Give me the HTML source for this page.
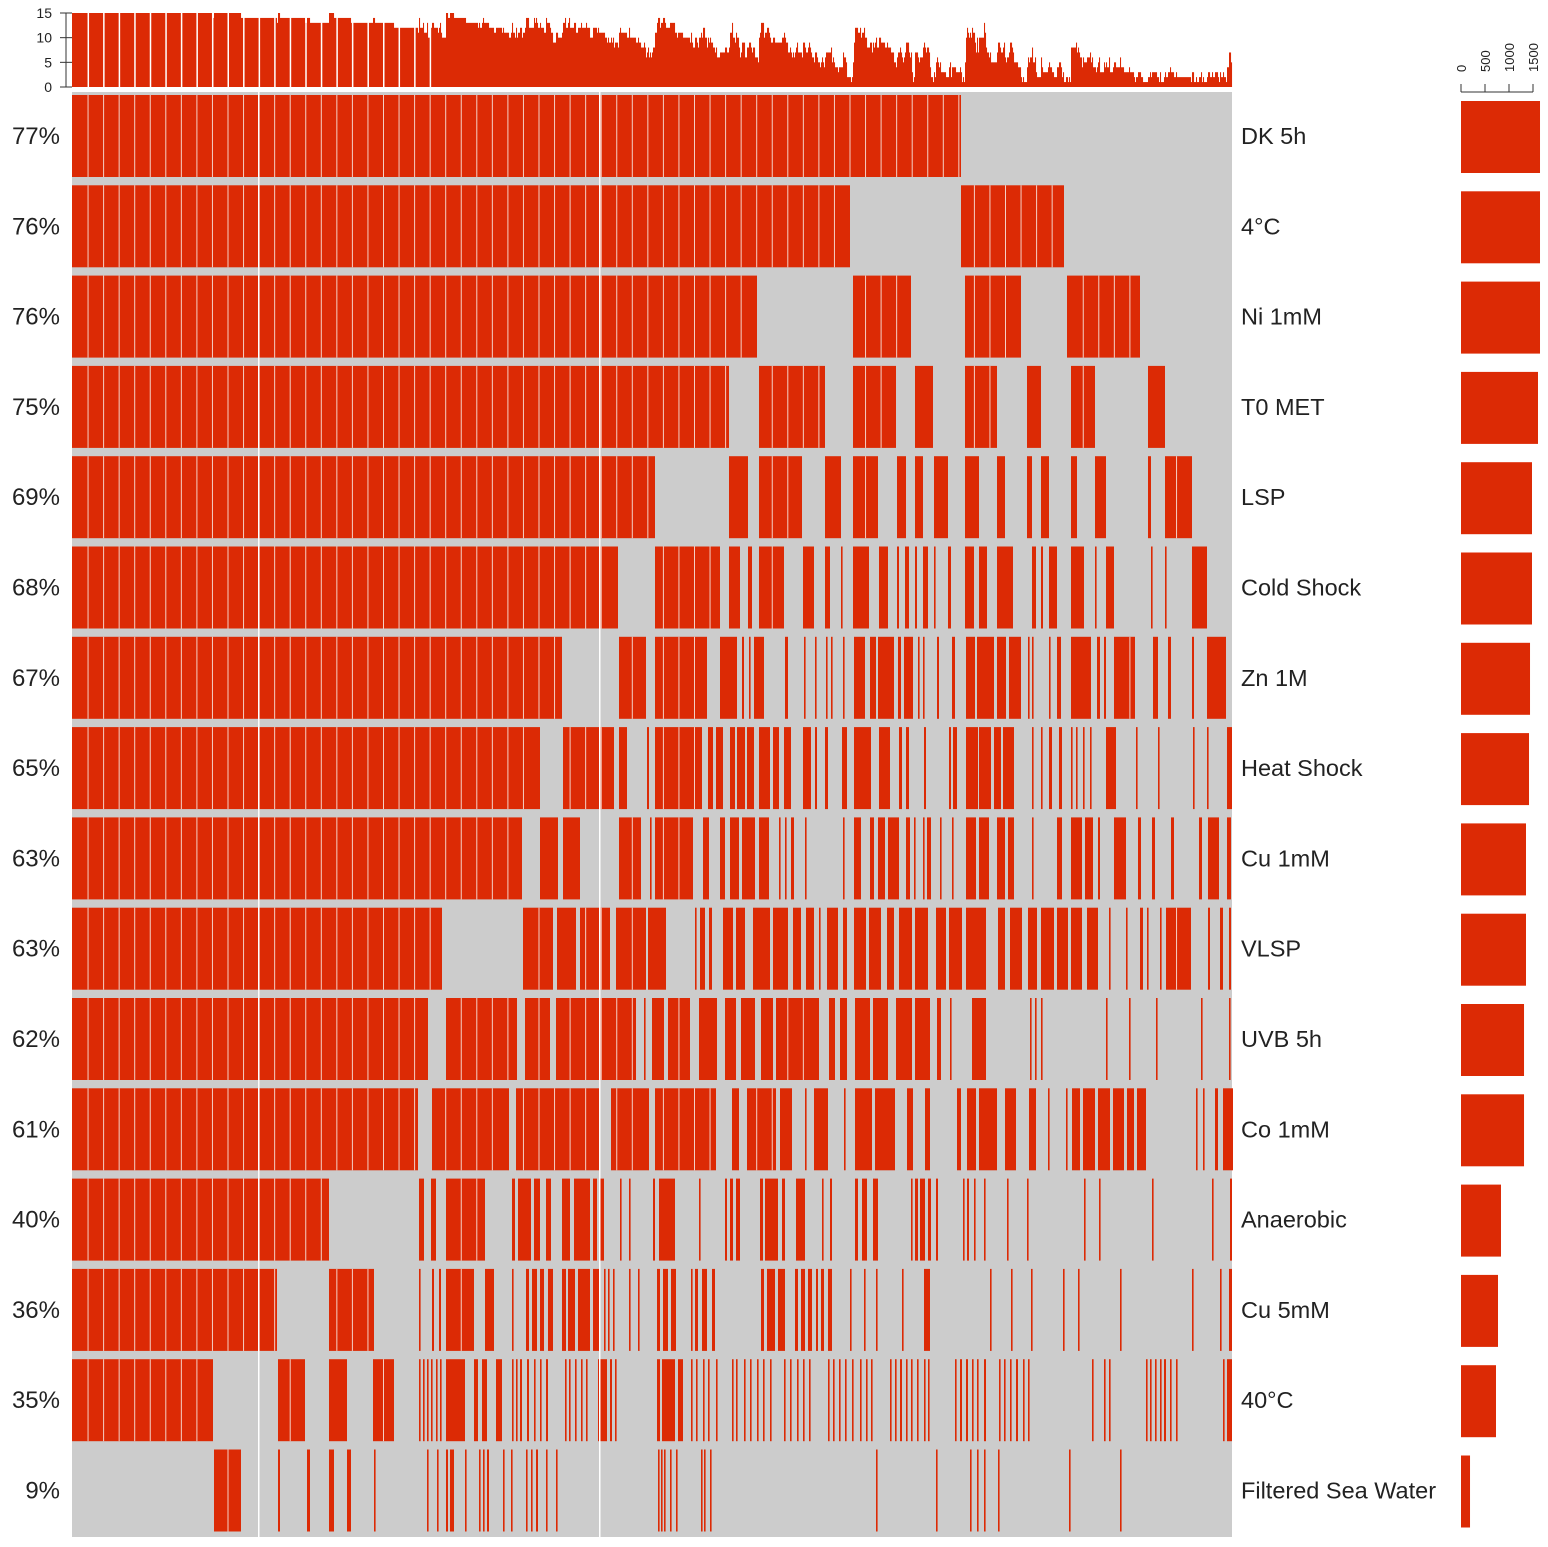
<!DOCTYPE html>
<html><head><meta charset="utf-8"><style>
html,body{margin:0;padding:0;background:#fff}
svg{display:block}
text{font-family:"Liberation Sans",sans-serif;fill:#222}
</style></head><body>
<svg id="chart" width="1548" height="1547" viewBox="0 0 1548 1547" xmlns="http://www.w3.org/2000/svg"></svg>
<script>
const rowNames = ["DK 5h","4\u00B0C","Ni 1mM","T0 MET","LSP","Cold Shock","Zn 1M","Heat Shock","Cu 1mM","VLSP","UVB 5h","Co  1mM","Anaerobic","Cu 5mM","40\u00B0C","Filtered Sea Water"];
const rowPercents = ["77%","76%","76%","75%","69%","68%","67%","65%","63%","63%","62%","61%","40%","36%","35%","9%"];
const setSizes = [1646,1646,1646,1604,1479,1479,1438,1417,1354,1354,1313,1313,833,771,729,188];
const sizeTicks = [0,500,1000,1500];
const histTicks = [0,5,10,15];
// gene rank ranges (domain 72..1232) present in each condition
const r0 = [[72,961]];
const r1 = [[72,850],[961,1064]];
const r2 = [[72,757],[853,911],[965,1021],[1067,1140]];
const r3 = [[72,729],[759,825],[853,896],[915,933],[965,997],[1027,1041],[1071,1095],[1148,1165]];
const r4 = [[72,655],[729,748],[759,802],[825,841],[853,878],[897,906],[915,923],[934,948],[965,979],[997,1005],[1027,1032],[1041,1049],[1071,1077],[1095,1106],[1148,1151],[1165,1192]];
const r5 = [[72,618],[655,720],[729,740],[748,752],[759,784],[803,814],[825,830],[841,842],[853,869],[879,888],[897,899],[905,909],[915,917],[923,928],[934,935],[948,951],[965,974],[979,987],[997,1013],[1032,1036],[1041,1043],[1049,1057],[1071,1084],[1095,1096],[1106,1114],[1151,1152],[1165,1166],[1192,1207]];
const r6 = [[72,562],[619,646],[655,707],[720,737],[742,744],[749,750],[754,764],[785,788],[804,805],[815,816],[826,827],[831,832],[843,844],[854,865],[870,876],[878,894],[898,901],[904,913],[918,919],[923,924],[937,939],[952,955],[966,975],[977,994],[997,1006],[1009,1021],[1028,1029],[1032,1033],[1049,1050],[1057,1061],[1071,1091],[1097,1100],[1104,1106],[1114,1135],[1153,1158],[1168,1171],[1192,1194],[1207,1226]];
const r7 = [[72,540],[563,614],[619,627],[647,649],[655,702],[708,713],[716,723],[730,735],[737,745],[747,754],[759,770],[773,779],[784,791],[803,811],[815,817],[825,828],[842,847],[854,871],[879,890],[899,902],[906,909],[924,926],[949,951],[953,957],[966,978],[979,991],[994,1001],[1003,1014],[1032,1033],[1041,1042],[1049,1052],[1059,1062],[1071,1072],[1076,1077],[1083,1084],[1090,1091],[1106,1116],[1136,1137],[1158,1159],[1193,1194],[1207,1208],[1227,1232]];
const r8 = [[72,522],[540,558],[563,580],[619,641],[650,651],[655,693],[703,709],[720,725],[730,739],[742,755],[759,769],[779,780],[785,786],[791,794],[805,806],[843,844],[854,861],[870,874],[878,885],[888,899],[906,910],[914,915],[923,924],[927,931],[940,941],[952,953],[966,976],[979,989],[997,1005],[1008,1014],[1032,1033],[1057,1062],[1071,1082],[1085,1093],[1098,1100],[1114,1126],[1138,1141],[1152,1155],[1171,1174],[1199,1202],[1208,1219],[1227,1231]];
const r9 = [[72,442],[523,553],[557,576],[580,610],[616,646],[648,666],[695,696],[700,705],[709,712],[723,733],[736,745],[753,770],[773,788],[793,801],[806,814],[819,820],[827,838],[843,847],[854,866],[869,881],[887,894],[899,912],[915,928],[936,946],[949,962],[966,986],[998,1005],[1010,1022],[1028,1037],[1041,1054],[1057,1068],[1071,1082],[1087,1098],[1109,1110],[1126,1127],[1140,1143],[1147,1148],[1160,1161],[1166,1191],[1208,1210],[1220,1223],[1229,1231]];
const r10 = [[72,428],[446,517],[525,550],[556,636],[644,645],[652,664],[668,690],[699,717],[725,736],[741,755],[761,773],[776,819],[829,835],[840,847],[855,870],[873,888],[896,912],[915,930],[937,941],[950,951],[972,986],[1030,1031],[1035,1036],[1041,1042],[1106,1107],[1129,1130],[1156,1157],[1201,1202],[1229,1230]];
const r11 = [[72,418],[432,509],[516,599],[611,649],[655,716],[732,739],[747,776],[780,792],[805,806],[814,828],[844,845],[855,872],[875,895],[907,913],[925,930],[957,961],[967,976],[979,997],[1005,1016],[1029,1036],[1048,1049],[1066,1067],[1072,1080],[1083,1095],[1098,1110],[1113,1124],[1127,1134],[1137,1146],[1196,1197],[1203,1204],[1215,1218],[1223,1233]];
const r12 = [[72,329],[419,424],[431,436],[446,485],[512,515],[518,531],[534,540],[546,551],[562,570],[574,590],[593,597],[600,604],[620,621],[629,630],[653,655],[659,675],[699,700],[725,727],[730,733],[736,740],[760,763],[765,778],[782,785],[796,805],[822,823],[830,832],[855,858],[862,867],[873,878],[911,912],[915,918],[920,925],[928,931],[936,938],[963,964],[967,969],[974,975],[984,985],[1007,1008],[1027,1028],[1084,1085],[1099,1100],[1152,1153],[1212,1213],[1230,1232]];
const r13 = [[72,277],[329,374],[419,420],[432,434],[439,441],[446,474],[485,494],[512,513],[526,529],[532,537],[540,544],[548,553],[562,566],[568,575],[578,590],[593,600],[604,605],[608,609],[613,614],[629,630],[638,639],[657,660],[663,668],[671,676],[691,692],[695,698],[702,707],[712,715],[761,764],[767,775],[778,785],[795,798],[801,805],[808,812],[816,818],[821,824],[828,832],[850,851],[864,865],[876,877],[902,903],[924,930],[990,991],[1011,1012],[1031,1032],[1063,1064],[1078,1079],[1120,1121],[1192,1193],[1220,1221],[1229,1232]];
const r14 = [[72,213],[278,305],[329,347],[373,394],[419,420],[423,424],[427,428],[431,432],[436,437],[440,441],[446,465],[474,478],[482,487],[496,502],[512,513],[516,517],[520,522],[527,529],[534,535],[540,541],[546,548],[565,566],[569,570],[575,576],[581,582],[586,587],[598,607],[610,612],[615,616],[657,660],[662,675],[678,683],[691,692],[696,697],[703,704],[708,709],[716,717],[732,733],[736,737],[744,745],[750,751],[757,758],[763,764],[770,771],[784,785],[790,791],[797,798],[803,804],[809,810],[828,829],[833,834],[839,840],[845,846],[852,853],[860,861],[866,867],[871,872],[890,891],[895,896],[900,902],[906,907],[911,912],[917,918],[924,925],[928,929],[955,956],[960,962],[966,968],[972,973],[977,978],[984,986],[999,1000],[1004,1005],[1010,1011],[1016,1018],[1023,1024],[1028,1029],[1092,1093],[1104,1105],[1109,1110],[1146,1147],[1150,1151],[1155,1156],[1160,1161],[1164,1166],[1170,1171],[1176,1177],[1223,1224],[1227,1232]];
const r15 = [[214,241],[278,280],[307,310],[329,334],[347,351],[374,375],[427,428],[437,438],[446,448],[450,454],[465,466],[479,480],[483,484],[487,489],[503,504],[511,512],[526,527],[531,532],[536,538],[546,547],[556,557],[658,659],[661,662],[664,665],[670,671],[676,677],[701,702],[704,705],[710,711],[876,877],[936,937],[970,971],[977,978],[984,985],[998,999],[1069,1070],[1120,1121]];
const rowRanges = [r0,r1,r2,r3,r4,r5,r6,r7,r8,r9,r10,r11,r12,r13,r14,r15];

const RED = "#dc2a05", GRAY = "#cccccc";
const GMIN = 72, GMAX = 1232;
const MX0 = 72, MX1 = 1232;
const xScale = g => MX0 + (g - GMIN) * (MX1 - MX0) / (GMAX - GMIN);
const ROW_TOP = 95, ROW_PITCH = 90.3, ROW_H = 82;
const rowY = i => ROW_TOP + i * ROW_PITCH;
const HY0 = 87, HY15 = 13;
const hScale = v => HY0 - v * (HY0 - HY15) / 15;
const SX0 = 1461;
const sScale = v => SX0 + v * 48 / 1000;

const svg = document.getElementById('chart');
const NS = "http://www.w3.org/2000/svg";
function mk(tag, attrs, parent) {
  const e = document.createElementNS(NS, tag);
  for (const k in attrs) e.setAttribute(k, attrs[k]);
  (parent || svg).appendChild(e);
  return e;
}

const bg = mk('rect', {x: MX0, y: 92, width: MX1 - MX0, height: 1445, fill: GRAY});



rowRanges.forEach((ranges, i) => {
  const g = mk('g', {});
  
  
  ranges.forEach(([a, b]) => {
    const x0 = xScale(a), x1 = xScale(b);
    const r = mk('rect', {x: x0, y: rowY(i), width: Math.max(x1 - x0, 1.6), height: ROW_H, fill: RED}, g);
    
    
    if (x1 - x0 > 20) {
      for (let s = MX0 + 15.55; s < x1; s += 15.55) {
        if (s > x0 + 2 && s < x1 - 2) mk('rect', {x: s, y: rowY(i), width: 1, height: ROW_H, fill: '#f4cfc5'}, g);
      }
    }
  });
  const pl = mk('text', {x: 60, y: rowY(i) + ROW_H / 2 + 8, 'text-anchor': 'end', 'font-size': 24});
  pl.textContent = rowPercents[i];
  
  
  const nl = mk('text', {x: 1241, y: rowY(i) + ROW_H / 2 + 8, 'font-size': 23.5});
  nl.textContent = rowNames[i];
  
  
  const sb = mk('rect', {x: SX0, y: rowY(i) + 6, width: sScale(setSizes[i]) - SX0, height: 72, fill: RED});
  
  
});

[258, 599].forEach(x => {
  const l = mk('rect', {x: x, y: 92, width: 1.5, height: 1445, fill: '#ffffff'});
  
  
});

const hist = mk('g', {});


for (let gpos = GMIN; gpos < GMAX; gpos++) {
  let c = 0;
  rowRanges.forEach(rr => { if (rr.some(([a, b]) => gpos >= a && gpos < Math.max(b, a + 1))) c++; });
  if (c > 0) {
    const x0 = xScale(gpos);
    mk('rect', {x: x0, y: hScale(c), width: 1.05, height: HY0 - hScale(c), fill: RED}, hist);
  }
}
for (let s = MX0 + 15.55; s < 430; s += 15.55) mk('rect', {x: s, y: 12, width: 1.5, height: 76, fill: '#fff'}, hist);
const hax = mk('line', {x1: 66, y1: hScale(0), x2: 66, y2: hScale(15), stroke: '#333', 'stroke-width': 1});


histTicks.forEach(t => {
  mk('line', {x1: 60, y1: hScale(t), x2: 72, y2: hScale(t), stroke: '#333', 'stroke-width': 1});
  const tl = mk('text', {x: 52, y: hScale(t) + 5, 'text-anchor': 'end', 'font-size': 14});
  tl.textContent = t;
  
  
});

const sax = mk('line', {x1: sScale(0), y1: 92, x2: sScale(1500), y2: 92, stroke: '#333', 'stroke-width': 1});


sizeTicks.forEach(t => {
  mk('line', {x1: sScale(t), y1: 84, x2: sScale(t), y2: 92, stroke: '#333', 'stroke-width': 1});
  const tl = mk('text', {x: 0, y: 0, 'font-size': 13, transform: `translate(${sScale(t) + 5},72) rotate(-90)`});
  tl.textContent = t;
  
  
});
</script>
</body></html>
